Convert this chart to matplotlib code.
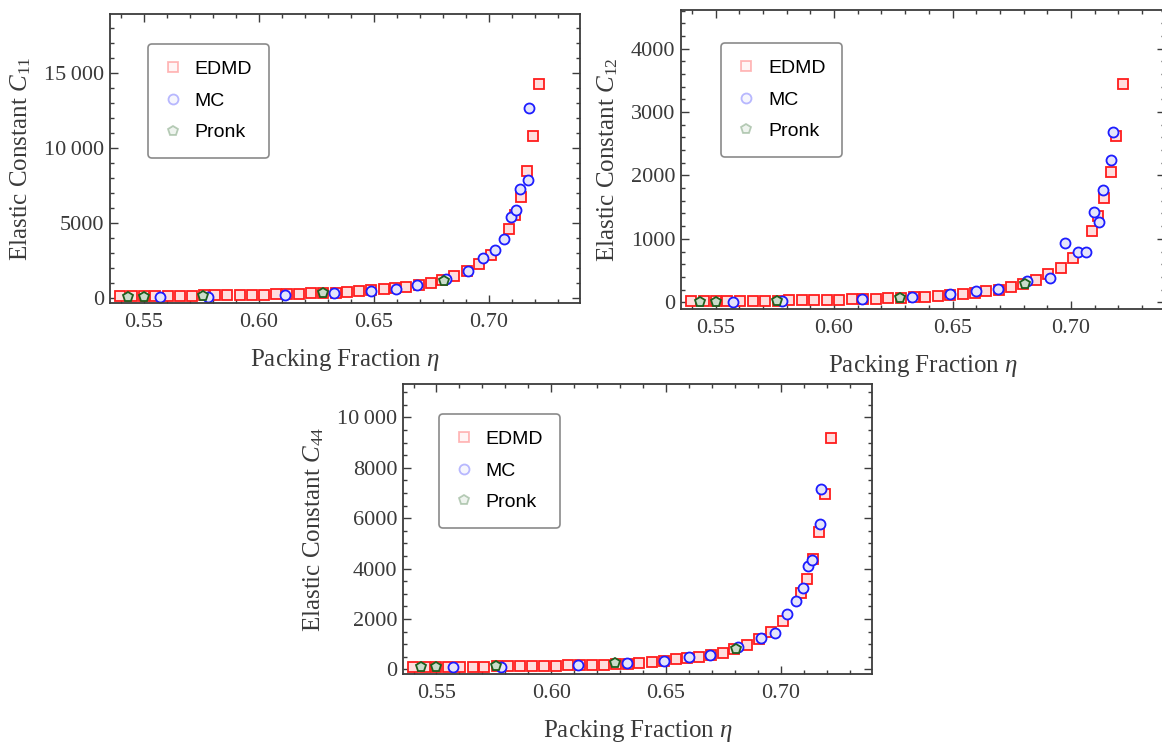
import numpy as np
import matplotlib
matplotlib.use('Agg')
import matplotlib.pyplot as plt
from matplotlib.ticker import MultipleLocator, FuncFormatter
from matplotlib.lines import Line2D

plt.rcParams['font.family'] = 'Liberation Serif'
plt.rcParams['mathtext.fontset'] = 'custom'
plt.rcParams['mathtext.rm'] = 'Liberation Serif'
plt.rcParams['mathtext.it'] = 'Liberation Serif:italic'

# packing fractions of the three data sets
eta_edmd = [0.5397, 0.5450, 0.5500, 0.5550, 0.5604, 0.5657, 0.5709, 0.5762, 0.5811, 0.5864,
            0.5917, 0.5969, 0.6022, 0.6075, 0.6124, 0.6177, 0.6228, 0.6281, 0.6336, 0.6384,
            0.6437, 0.6490, 0.6543, 0.6593, 0.6642, 0.6695, 0.6747, 0.6796, 0.6851, 0.6904,
            0.6957, 0.7010, 0.7088, 0.7116, 0.7140, 0.7167, 0.7192, 0.7218]
eta_mc = [0.5572, 0.5780, 0.6116, 0.6329, 0.6490, 0.6598, 0.6690, 0.6814, 0.6912, 0.6974,
          0.7029, 0.7065, 0.7098, 0.7120, 0.7135, 0.7169, 0.7176]
eta_pronk = [0.5433, 0.5500, 0.5760, 0.6278, 0.6806]

# elastic constants C11
c11_edmd = [150, 155, 160, 165, 170, 180, 185, 195, 205, 215, 225, 235, 245, 260, 280, 300,
            330, 350, 380, 420, 490, 555, 600, 665, 755, 890, 1040, 1220, 1480, 1820, 2290,
            2890, 4630, 5540, 6760, 8450, 10780, 14230]
c11_mc = [110, 110, 245, 330, 510, 640, 860, 1310, 1800, 2700, 3210, 3950, 5430, 5880, 7270,
          7870, 12680]
c11_pronk = [110, 110, 180, 330, 1150]

# elastic constants C12
c12_edmd = [16, 17, 18, 19, 21, 23, 25, 27, 29, 32, 35, 38, 42, 47, 52, 58, 65, 72, 80, 90,
            100, 110, 125, 145, 170, 200, 240, 290, 350, 440, 540, 700, 1130, 1360, 1650,
            2050, 2620, 3440]
c12_mc = [5, 25, 55, 85, 125, 185, 205, 340, 380, 940, 790, 790, 1420, 1265, 1770, 2245, 2680]
c12_pronk = [10, 10, 20, 68, 285]

# elastic constants C44
c44_edmd = [80, 85, 90, 95, 100, 105, 110, 115, 120, 125, 130, 140, 145, 160, 170, 175, 190,
            200, 210, 240, 280, 330, 400, 440, 500, 555, 660, 820, 965, 1190, 1490, 1930,
            3015, 3600, 4370, 5440, 6940, 9180]
c44_mc = [105, 105, 170, 240, 345, 475, 555, 900, 1255, 1430, 2195, 2710, 3215, 4100, 4340,
          5750, 7155]
c44_pronk = [105, 105, 145, 240, 795]

x_ticks = [0.55, 0.60, 0.65, 0.70]
legend_labels = ['EDMD', 'MC', 'Pronk']

styles = [
    dict(marker='s', ms=6.8, mfc='#ffdede', mec='#ff1c1c', mew=1.3),
    dict(marker='o', ms=7.2, mfc='#e4e4fb', mec='#1c1cff', mew=1.3),
    dict(marker='p', ms=7.8, mfc='#cbdccb', mec='#1f5f1f', mew=1.3),
]
frame_col = '#3c3c3c'
text_col = '#3a3a3a'


def fmt_thousands(v, pos):
    s = '{:.0f}'.format(v)
    if abs(v) >= 10000:
        s = s[:-3] + '\u2009' + s[-3:]
    return s


def panel(rect, edmd, mc, pronk, sub, ylim, major, minor, leg_xy):
    ax = fig.add_axes(rect)
    for (x, y), st in zip([(eta_edmd, edmd), (eta_mc, mc), (eta_pronk, pronk)], styles):
        ax.plot(x, y, ls='none', **st)
    ax.set_xlim(0.5354, 0.7397)
    ax.set_ylim(*ylim)
    ax.set_xticks(x_ticks)
    ax.xaxis.set_major_formatter(FuncFormatter(lambda v, p: '{:.2f}'.format(v)))
    ax.xaxis.set_minor_locator(MultipleLocator(0.01))
    ax.yaxis.set_major_locator(MultipleLocator(major))
    ax.yaxis.set_minor_locator(MultipleLocator(minor))
    ax.yaxis.set_major_formatter(FuncFormatter(fmt_thousands))
    ax.tick_params(which='both', direction='in', top=True, right=True, color=frame_col,
                   labelcolor=text_col, labelsize=16)
    ax.tick_params(which='major', length=5.5, width=1.0)
    ax.tick_params(which='minor', length=3, width=1.0)
    ax.tick_params(axis='x', pad=7)
    ax.tick_params(axis='y', pad=4)
    for sp in ax.spines.values():
        sp.set_color(frame_col)
        sp.set_linewidth(1.3)
    ax.set_xlabel(r'Packing Fraction $\eta$', fontsize=18, color=text_col, labelpad=11)
    ax.set_ylabel(r'Elastic Constant $C_{%s}$' % sub, fontsize=18, color=text_col, labelpad=8)

    handles = [Line2D([], [], ls='none', alpha=0.3, **st) for st in styles]
    leg = ax.legend(handles, legend_labels, loc='upper left', bbox_to_anchor=leg_xy,
                    borderaxespad=0, frameon=True, fancybox=True, handlelength=0.9,
                    handletextpad=0.65, borderpad=0.85, labelspacing=0.72,
                    prop={'family': 'Liberation Sans', 'size': 14})
    leg.get_frame().set_edgecolor('#8a8a8a')
    leg.get_frame().set_linewidth(1.2)
    leg.get_frame().set_alpha(1)
    return ax


fig = plt.figure(figsize=(11.62, 7.42), dpi=100)

panel([0.0947, 0.5916, 0.4045, 0.3895], c11_edmd, c11_mc, c11_pronk, '11',
      (-310, 18900), 5000, 1000, (0.081, 0.896))
panel([0.5861, 0.5836, 0.4165, 0.4030], c12_edmd, c12_mc, c12_pronk, '12',
      (-106, 4610), 1000, 200, (0.083, 0.89))
panel([0.3468, 0.0916, 0.4036, 0.3908], c44_edmd, c44_mc, c44_pronk, '44',
      (-187, 11320), 2000, 500, (0.077, 0.897))

fig.savefig('out.png', dpi=100)
